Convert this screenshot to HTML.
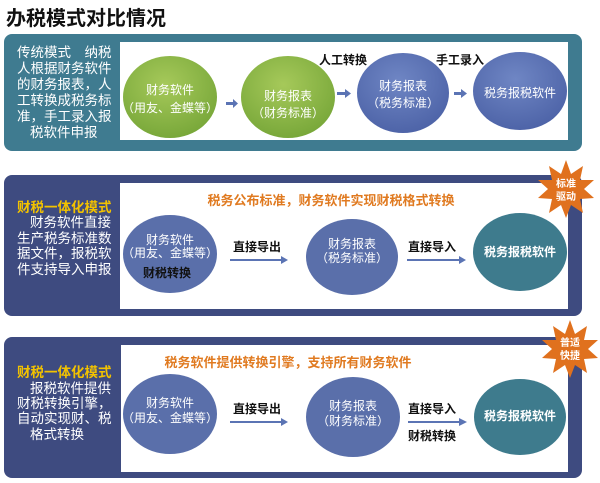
<!DOCTYPE html>
<html><head><meta charset="utf-8"><style>
html,body{margin:0;padding:0;background:#fff;}
svg{display:block;font-family:"Liberation Sans","Noto Sans CJK SC",sans-serif;}
</style></head><body>
<svg width="600" height="483" viewBox="0 0 600 483" xmlns="http://www.w3.org/2000/svg">
<defs>
<radialGradient id="g" cx="45%" cy="35%" r="65%"><stop offset="0" stop-color="#a6c95a"/><stop offset="1" stop-color="#79a83a"/></radialGradient>
<radialGradient id="b" cx="45%" cy="35%" r="65%"><stop offset="0" stop-color="#6f86c4"/><stop offset="1" stop-color="#4e64a8"/></radialGradient>
</defs>
<text x="6" y="25" font-size="20" font-weight="bold" fill="#111">办税模式对比情况</text>

<!-- Panel 1 -->
<rect x="4" y="34" width="578" height="117" rx="8" fill="#3f7b90"/>
<rect x="120" y="42" width="448" height="98" fill="#fff"/>
<g font-size="13.5" fill="#fff">
<text x="17" y="57">传统模式　纳税</text>
<text x="17" y="73">人根据财务软件</text>
<text x="17" y="89">的财务报表，人</text>
<text x="17" y="105">工转换成税务标</text>
<text x="17" y="121">准，手工录入报</text>
<text x="30" y="137">税软件申报</text>
</g>
<ellipse cx="170" cy="97" rx="47" ry="41" fill="url(#g)"/>
<ellipse cx="288" cy="97" rx="47" ry="41" fill="url(#g)"/>
<ellipse cx="403" cy="93" rx="46" ry="40" fill="url(#b)"/>
<ellipse cx="520" cy="91" rx="47" ry="39" fill="url(#b)"/>
<g font-size="12" fill="#fff" text-anchor="middle">
<text x="170" y="94">财务软件</text><text x="170" y="112">（用友、金蝶等）</text>
<text x="288" y="100">财务报表</text><text x="288" y="117">（财务标准）</text>
<text x="403" y="90">财务报表</text><text x="403" y="107">（税务标准）</text>
<text x="520" y="97">税务报税软件</text>
</g>
<g font-size="12" font-weight="bold" fill="#111" text-anchor="middle">
<text x="343" y="64">人工转换</text><text x="460" y="64">手工录入</text>
</g>
<g fill="#5b74b4">
<rect x="226" y="102" width="8" height="3"/><polygon points="233,99 238,103.5 233,108"/>
<rect x="337" y="92" width="9" height="3"/><polygon points="345,89 351,93.5 345,98"/>
<rect x="454" y="92" width="8" height="3"/><polygon points="461,89 467,93.5 461,98"/>
</g>

<!-- Panel 2 -->
<rect x="4" y="175" width="578" height="141" rx="8" fill="#3e4b80"/>
<rect x="120" y="183" width="448" height="126" fill="#fff"/>
<g font-size="13.5" fill="#fff">
<text x="17" y="212" fill="#f2c200" font-weight="bold">财税一体化模式</text>
<text x="30" y="227">财务软件直接</text>
<text x="17" y="243">生产税务标准数</text>
<text x="17" y="258">据文件，报税软</text>
<text x="17" y="274">件支持导入申报</text>
</g>
<text x="331" y="205" font-size="13" font-weight="bold" fill="#e07a20" text-anchor="middle">税务公布标准，财务软件实现财税格式转换</text>
<ellipse cx="170" cy="254" rx="47" ry="39" fill="#5a6faa"/>
<ellipse cx="352" cy="257" rx="46" ry="38" fill="#5a6faa"/>
<ellipse cx="520" cy="252" rx="47" ry="39" fill="#3e7b8d"/>
<g font-size="12" fill="#fff" text-anchor="middle">
<text x="170" y="244">财务软件</text><text x="170" y="257">（用友、金蝶等）</text>
<text x="352" y="248">财务报表</text><text x="352" y="262">（税务标准）</text>
<text x="520" y="256" font-weight="bold">税务报税软件</text>
</g>
<g font-size="12" font-weight="bold" fill="#111" text-anchor="middle">
<text x="167" y="277">财税转换</text>
<text x="257" y="251">直接导出</text><text x="432" y="251">直接导入</text>
</g>
<g fill="#5b74b4">
<rect x="230" y="259" width="52" height="2"/><polygon points="281,256 288,260 281,264"/>
<rect x="407" y="259" width="53" height="2"/><polygon points="459,256 466,260 459,264"/>
</g>
<polygon fill="#e0711e" points="566,160 571,174 583,166 580,180 594,180 584,189 594,198 580,199 583,213 571,205 566,218 561,205 549,213 552,199 538,198 548,189 538,180 552,180 549,166 561,174"/>
<g font-size="10" font-weight="bold" fill="#fff" text-anchor="middle"><text x="566" y="187">标准</text><text x="566" y="200">驱动</text></g>

<!-- Panel 3 -->
<rect x="4" y="337" width="578" height="141" rx="8" fill="#3e4b80"/>
<rect x="121" y="345" width="447" height="127" fill="#fff"/>
<g font-size="13.5" fill="#fff">
<text x="17" y="377" fill="#f2c200" font-weight="bold">财税一体化模式</text>
<text x="30" y="393">报税软件提供</text>
<text x="17" y="408">财税转换引擎，</text>
<text x="17" y="423">自动实现财、税</text>
<text x="30" y="439">格式转换</text>
</g>
<text x="288" y="367" font-size="13" font-weight="bold" fill="#e07a20" text-anchor="middle">税务软件提供转换引擎，支持所有财务软件</text>
<ellipse cx="170" cy="414" rx="47" ry="40" fill="#5a6faa"/>
<ellipse cx="353" cy="417" rx="47" ry="40" fill="#5a6faa"/>
<ellipse cx="520" cy="417" rx="46" ry="38" fill="#3e7b8d"/>
<g font-size="12" fill="#fff" text-anchor="middle">
<text x="170" y="407">财务软件</text><text x="170" y="422">（用友、金蝶等）</text>
<text x="353" y="410">财务报表</text><text x="353" y="425">（财务标准）</text>
<text x="520" y="420" font-weight="bold">税务报税软件</text>
</g>
<g font-size="12" font-weight="bold" fill="#111" text-anchor="middle">
<text x="257" y="413">直接导出</text><text x="432" y="413">直接导入</text><text x="432" y="440">财税转换</text>
</g>
<g fill="#5b74b4">
<rect x="230" y="421" width="52" height="2"/><polygon points="281,418 288,422 281,426"/>
<rect x="408" y="421" width="52" height="2"/><polygon points="459,418 467,422 459,426"/>
</g>
<polygon fill="#e0711e" points="570,320 575,334 587,326 584,340 598,340 588,349 598,358 584,359 587,373 575,365 570,378 565,365 553,373 556,359 542,358 552,349 542,340 556,340 553,326 565,334"/>
<g font-size="10" font-weight="bold" fill="#fff" text-anchor="middle"><text x="570" y="346">普适</text><text x="570" y="359">快捷</text></g>
</svg>
</body></html>
